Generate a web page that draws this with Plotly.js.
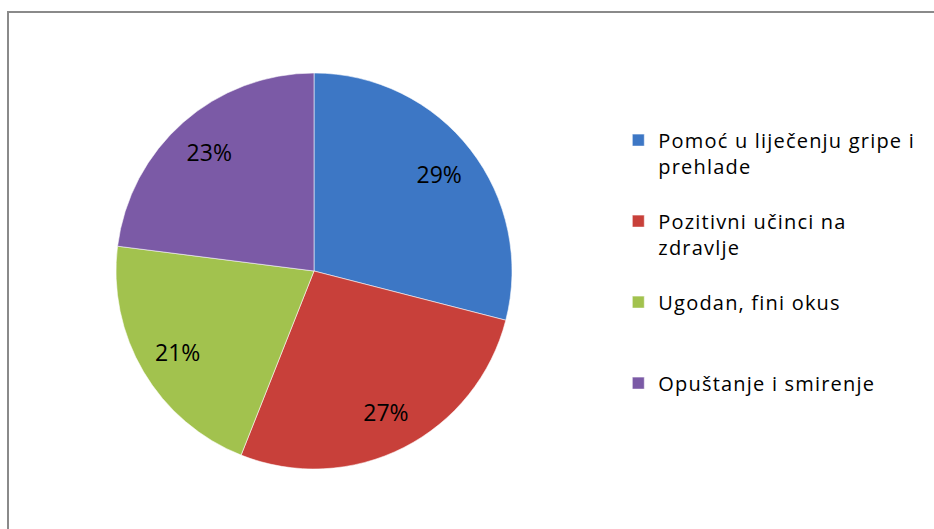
<!DOCTYPE html>
<html>
<head>
<meta charset="utf-8">
<script src="https://cdn.plot.ly/plotly-3.0.1.min.js"></script>
<style>
  html, body { margin: 0; padding: 0; background: #ffffff; }
  #wrap { position: relative; width: 934px; height: 529px; overflow: hidden; background: #fff; }
  #frame { position: absolute; left: 7px; top: 11px; width: 940px; height: 540px;
           border-top: 2px solid #8a8a8a; border-left: 2px solid #8a8a8a; pointer-events: none; }
  #chart { position: absolute; left: 0; top: 0; width: 934px; height: 529px; }
  .legendtext { letter-spacing: 1.2px; }
</style>
</head>
<body>
<div id="wrap">
  <div id="chart"></div>
  <div id="frame"></div>
</div>
<script>
// Data
const categories = [
  "Pomoć u liječenju gripe i<br>prehlade",
  "Pozitivni učinci na<br>zdravlje",
  "Ugodan, fini okus",
  "Opuštanje i smirenje"
];
const shares = [29, 27, 21, 23];
const sliceColors = ["#3D77C5", "#C8403A", "#A2C24E", "#7B5AA6"];

// pad legend names to equal line counts (equal spacing as in the reference)
const legendNames = categories.map(function (c) {
  const lines = c.split("<br>").length;
  let s = c;
  for (let i = lines; i < 3; i++) s += "<br> ";
  return s;
});

const dom = { x: [0.1242, 0.5482], y: [0.1134, 0.862] };

const pieMain = {
  type: "pie",
  labels: legendNames,
  values: shares,
  sort: false,
  direction: "clockwise",
  rotation: 0,
  domain: dom,
  marker: { colors: sliceColors, line: { color: "rgba(255,255,255,0.55)", width: 1 } },
  textinfo: "none",
  hoverinfo: "label+percent",
  showlegend: true
};

const pieText = {
  type: "pie",
  labels: legendNames,
  values: shares,
  sort: false,
  direction: "clockwise",
  rotation: 0,
  hole: 0.6,
  domain: dom,
  marker: { colors: ["rgba(0,0,0,0)", "rgba(0,0,0,0)", "rgba(0,0,0,0)", "rgba(0,0,0,0)"], line: { width: 0 } },
  textinfo: "percent",
  texttemplate: "%{percent:.0%}",
  textposition: "inside",
  insidetextorientation: "horizontal",
  insidetextfont: { family: "Open Sans, sans-serif", size: 23, color: "#000000" },
  hoverinfo: "skip",
  showlegend: false
};

const layout = {
  width: 934,
  height: 529,
  margin: { l: 0, r: 0, t: 0, b: 0 },
  paper_bgcolor: "rgba(0,0,0,0)",
  plot_bgcolor: "rgba(0,0,0,0)",
  showlegend: true,
  legend: {
    x: 0.662,
    xanchor: "left",
    y: 0.772,
    yanchor: "top",
    valign: "top",
    font: { family: "Open Sans, sans-serif", size: 20, color: "#000000" },
    bgcolor: "rgba(0,0,0,0)",
    traceorder: "normal"
  },
  font: { family: "Open Sans, sans-serif" }
};

Plotly.newPlot("chart", [pieMain, pieText], layout, { staticPlot: true, displayModeBar: false });
</script>
</body>
</html>
